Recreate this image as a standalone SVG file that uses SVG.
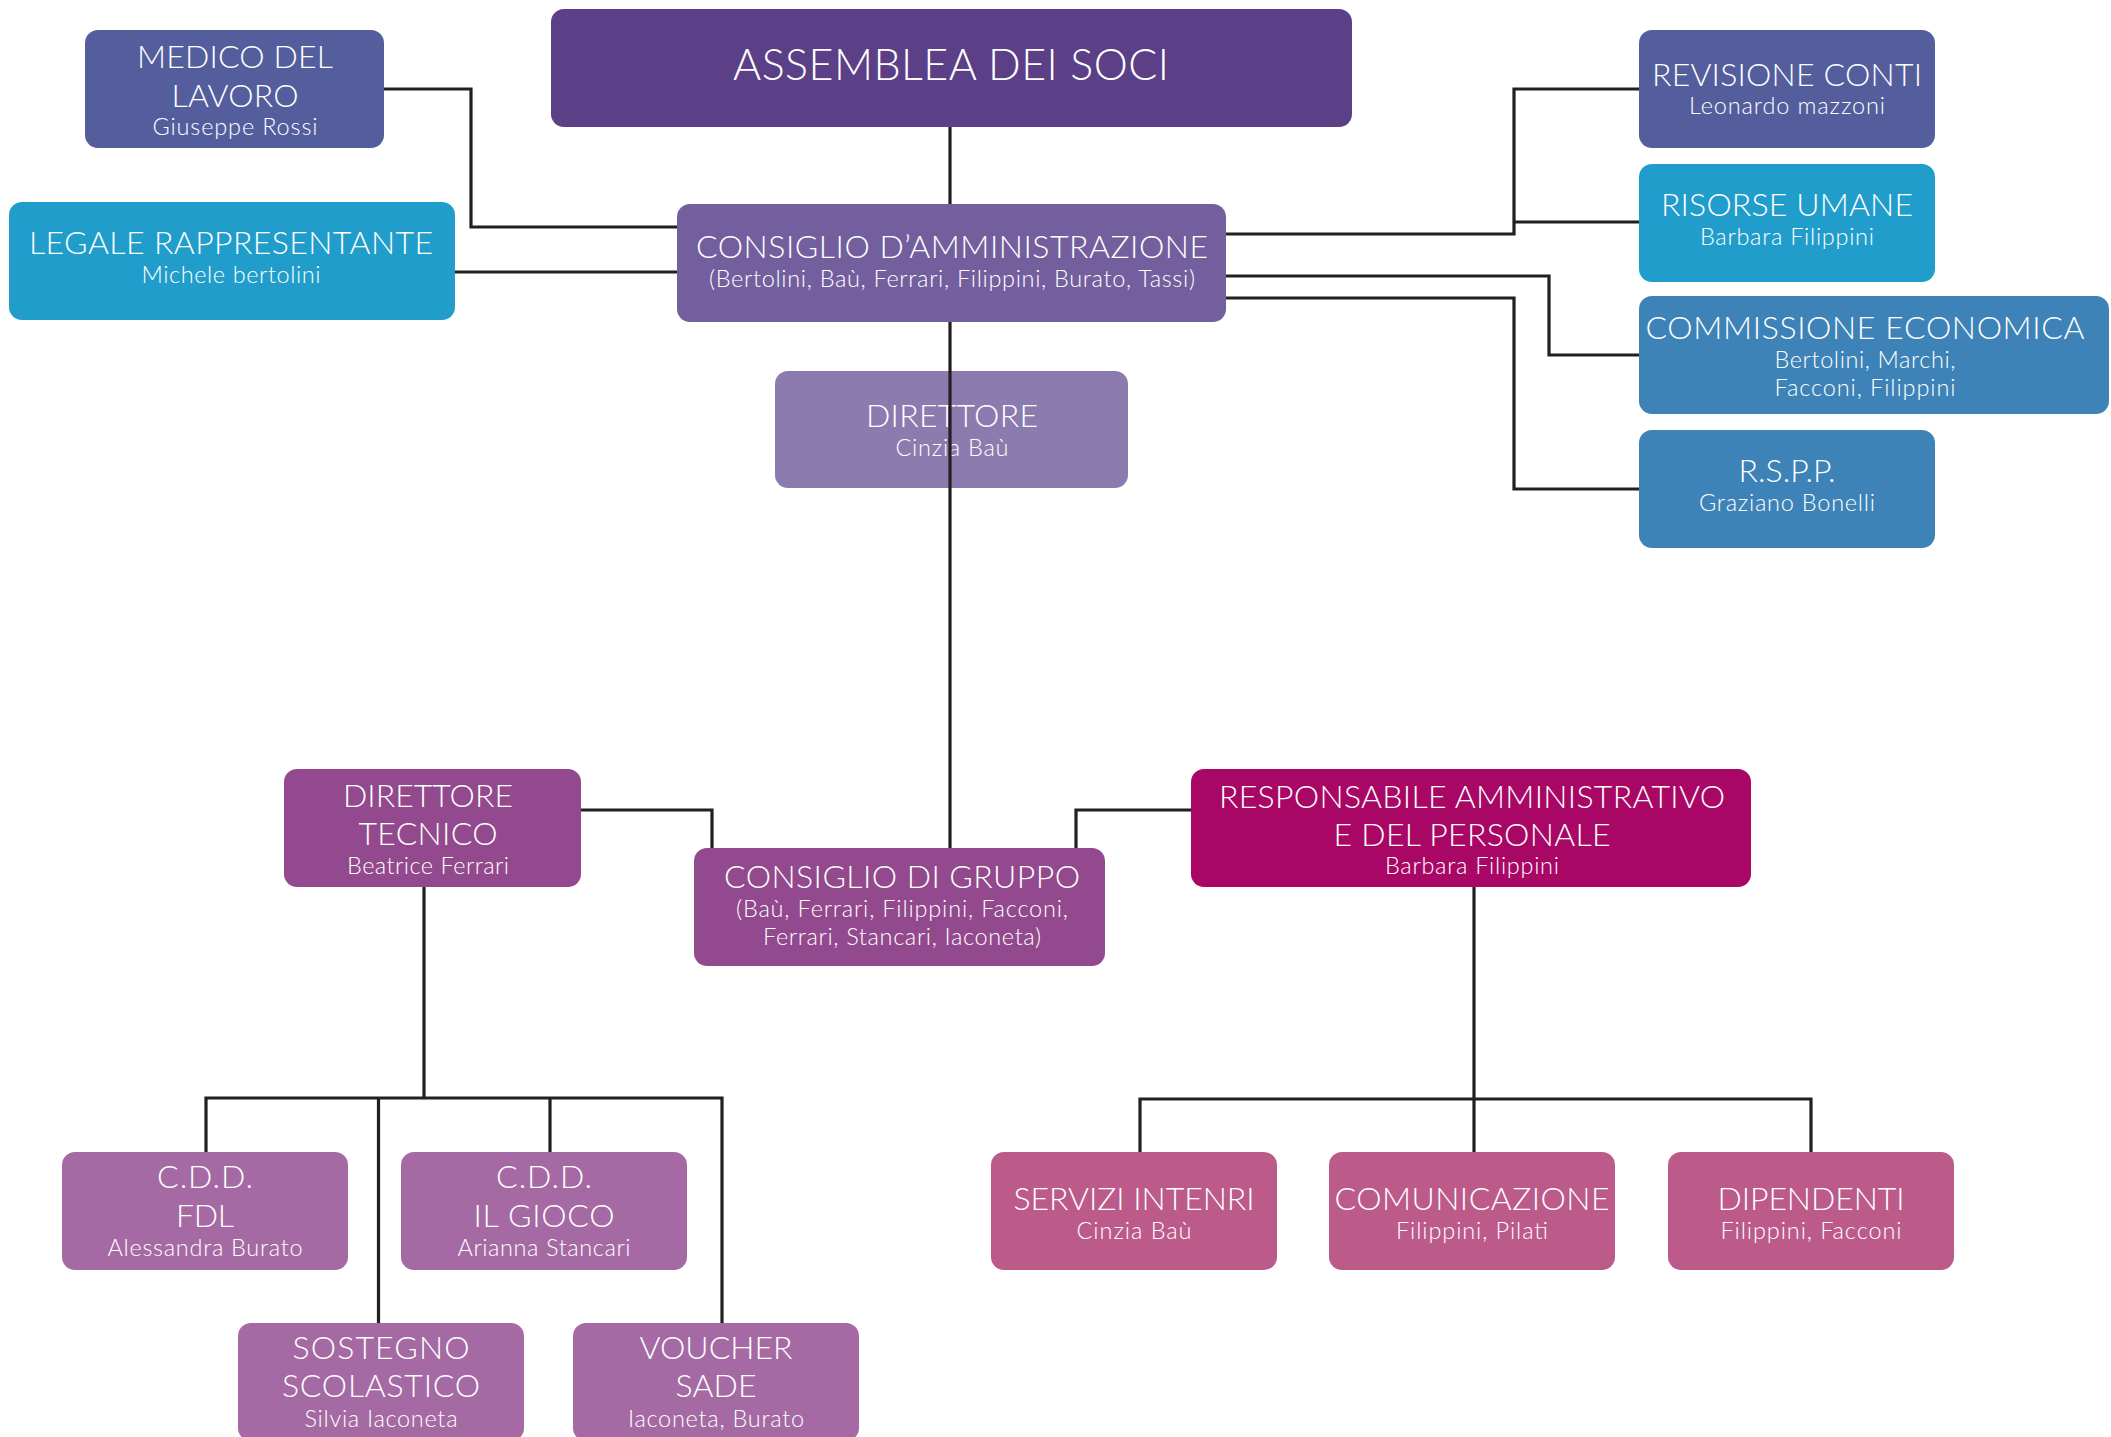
<svg xmlns="http://www.w3.org/2000/svg" width="2111" height="1437" viewBox="0 0 2111 1437">
<style>
.box{stroke:none}
.t{font-family:Lato,"Noto Sans","Liberation Sans",sans-serif;font-weight:300;fill:#ffffff;text-anchor:middle}
.h{font-size:32px}
.s{font-size:23.5px}
.big{font-size:43px}
.ln{fill:none;stroke:#231f20;stroke-width:3.2;stroke-linejoin:miter;stroke-linecap:butt}
</style>
<rect width="2111" height="1437" fill="#ffffff"/>
<g id="nodes">
<g id="assemblea"><rect class="box" x="551" y="9" width="801" height="118" rx="13" fill="#5b3f87"/><text class="t big" x="951" y="80" textLength="436">ASSEMBLEA DEI SOCI</text></g>
<g id="medico"><rect class="box" x="85" y="30" width="299" height="118" rx="13" fill="#545e9d"/><text class="t h" x="235" y="68" textLength="196">MEDICO DEL</text><text class="t h" x="235" y="107" textLength="127">LAVORO</text><text class="t s" x="235" y="135" textLength="165">Giuseppe Rossi</text></g>
<g id="legale"><rect class="box" x="9" y="202" width="446" height="118" rx="13" fill="#219dcb"/><text class="t h" x="231" y="254" textLength="404">LEGALE RAPPRESENTANTE</text><text class="t s" x="231" y="283" textLength="179">Michele bertolini</text></g>
<g id="consiglio"><rect class="box" x="677" y="204" width="549" height="118" rx="13" fill="#735f9d"/><text class="t h" x="952" y="258" textLength="512">CONSIGLIO D’AMMINISTRAZIONE</text><text class="t s" x="952" y="287" textLength="486">(Bertolini, Baù, Ferrari, Filippini, Burato, Tassi)</text></g>
<g id="direttore"><rect class="box" x="775" y="371" width="353" height="117" rx="13" fill="#8c7baf"/><text class="t h" x="952" y="427" textLength="172">DIRETTORE</text><text class="t s" x="952" y="456" textLength="113">Cinzia Baù</text></g>
<g id="revisione"><rect class="box" x="1639" y="30" width="296" height="118" rx="13" fill="#545e9d"/><text class="t h" x="1787" y="86" textLength="270">REVISIONE CONTI</text><text class="t s" x="1787" y="114" textLength="196">Leonardo mazzoni</text></g>
<g id="risorse"><rect class="box" x="1639" y="164" width="296" height="118" rx="13" fill="#219dcb"/><text class="t h" x="1787" y="216" textLength="252">RISORSE UMANE</text><text class="t s" x="1787" y="245" textLength="174">Barbara Filippini</text></g>
<g id="commissione"><rect class="box" x="1639" y="296" width="470" height="118" rx="13" fill="#3e83b7"/><text class="t h" x="1865" y="339" textLength="439">COMMISSIONE ECONOMICA</text><text class="t s" x="1865" y="368" textLength="181">Bertolini, Marchi,</text><text class="t s" x="1865" y="396" textLength="181">Facconi, Filippini</text></g>
<g id="rspp"><rect class="box" x="1639" y="430" width="296" height="118" rx="13" fill="#3e83b7"/><text class="t h" x="1787" y="482" textLength="97">R.S.P.P.</text><text class="t s" x="1787" y="511" textLength="176">Graziano Bonelli</text></g>
<g id="direttore-tecnico"><rect class="box" x="284" y="769" width="297" height="118" rx="13" fill="#92498d"/><text class="t h" x="428" y="807" textLength="170">DIRETTORE</text><text class="t h" x="428" y="845" textLength="139">TECNICO</text><text class="t s" x="428" y="874" textLength="162">Beatrice Ferrari</text></g>
<g id="consiglio-gruppo"><rect class="box" x="694" y="848" width="411" height="118" rx="13" fill="#92498d"/><text class="t h" x="902" y="888" textLength="356">CONSIGLIO DI GRUPPO</text><text class="t s" x="902" y="917" textLength="332">(Baù, Ferrari, Filippini, Facconi,</text><text class="t s" x="902" y="945" textLength="278">Ferrari, Stancari, Iaconeta)</text></g>
<g id="responsabile"><rect class="box" x="1191" y="769" width="560" height="118" rx="13" fill="#a90766"/><text class="t h" x="1472" y="808" textLength="506">RESPONSABILE AMMINISTRATIVO</text><text class="t h" x="1472" y="846" textLength="277">E DEL PERSONALE</text><text class="t s" x="1472" y="874" textLength="174">Barbara Filippini</text></g>
<g id="cdd-fdl"><rect class="box" x="62" y="1152" width="286" height="118" rx="13" fill="#a56aa3"/><text class="t h" x="205" y="1188" textLength="96">C.D.D.</text><text class="t h" x="205" y="1227" textLength="58">FDL</text><text class="t s" x="205" y="1256" textLength="195">Alessandra Burato</text></g>
<g id="cdd-gioco"><rect class="box" x="401" y="1152" width="286" height="118" rx="13" fill="#a56aa3"/><text class="t h" x="544" y="1188" textLength="96">C.D.D.</text><text class="t h" x="544" y="1227" textLength="141">IL GIOCO</text><text class="t s" x="544" y="1256" textLength="173">Arianna Stancari</text></g>
<g id="sostegno"><rect class="box" x="238" y="1323" width="286" height="118" rx="13" fill="#a56aa3"/><text class="t h" x="381" y="1359" textLength="177">SOSTEGNO</text><text class="t h" x="381" y="1397" textLength="198">SCOLASTICO</text><text class="t s" x="381" y="1427" textLength="153">Silvia Iaconeta</text></g>
<g id="voucher"><rect class="box" x="573" y="1323" width="286" height="118" rx="13" fill="#a56aa3"/><text class="t h" x="716" y="1359" textLength="153">VOUCHER</text><text class="t h" x="716" y="1397" textLength="81">SADE</text><text class="t s" x="716" y="1427" textLength="176">Iaconeta, Burato</text></g>
<g id="servizi"><rect class="box" x="991" y="1152" width="286" height="118" rx="13" fill="#bc5a8a"/><text class="t h" x="1134" y="1210" textLength="241">SERVIZI INTENRI</text><text class="t s" x="1134" y="1239" textLength="115">Cinzia Baù</text></g>
<g id="comunicazione"><rect class="box" x="1329" y="1152" width="286" height="118" rx="13" fill="#bc5a8a"/><text class="t h" x="1472" y="1210" textLength="275">COMUNICAZIONE</text><text class="t s" x="1472" y="1239" textLength="152">Filippini, Pilati</text></g>
<g id="dipendenti"><rect class="box" x="1668" y="1152" width="286" height="118" rx="13" fill="#bc5a8a"/><text class="t h" x="1811" y="1210" textLength="187">DIPENDENTI</text><text class="t s" x="1811" y="1239" textLength="181">Filippini, Facconi</text></g>
</g>
<g id="connectors">
<path class="ln" d="M950,127 V204"/>
<path class="ln" d="M950,322 V848"/>
<path class="ln" d="M384,89 H471 V227 H677"/>
<path class="ln" d="M455,272 H677"/>
<path class="ln" d="M1226,234 H1514 V89 H1639"/>
<path class="ln" d="M1514,222 H1639"/>
<path class="ln" d="M1226,276 H1549 V355 H1639"/>
<path class="ln" d="M1226,298 H1514 V489 H1639"/>
<path class="ln" d="M581,810 H712 V848"/>
<path class="ln" d="M1191,810 H1076 V848"/>
<path class="ln" d="M424,887 V1098"/>
<path class="ln" d="M206,1152 V1098 H722 V1323"/>
<path class="ln" d="M378.5,1098 V1323"/>
<path class="ln" d="M550,1098 V1152"/>
<path class="ln" d="M1474,887 V1152"/>
<path class="ln" d="M1140,1152 V1099 H1811 V1152"/>
</g>
</svg>
